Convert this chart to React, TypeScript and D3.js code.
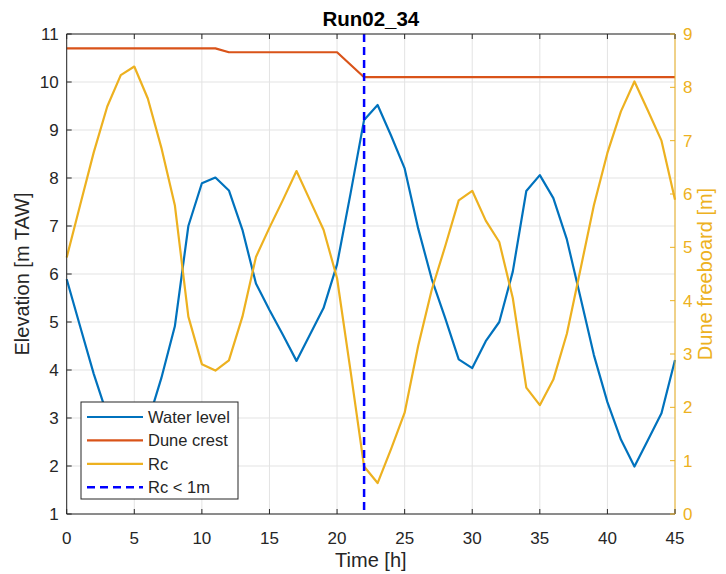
import React, { useEffect, useRef } from 'react';
import * as d3 from 'd3';

// hours 0..45
const hours = d3.range(0, 46);

const waterLevel = [
  5.89, 4.9, 3.92, 3.06, 2.47, 2.31, 2.91, 3.83, 4.91, 7.0,
  7.89, 8.01, 7.74, 6.92, 5.8, 5.25, 4.73, 4.19, 4.74, 5.29,
  6.2, 7.68, 9.21, 9.52, 8.88, 8.2, 6.95, 5.9, 5.08, 4.22,
  4.04, 4.6, 5.0, 6.05, 7.73, 8.06, 7.58, 6.72, 5.52, 4.31,
  3.33, 2.55, 1.99, 2.54, 3.1, 4.21,
];

const duneCrest = [
  10.7, 10.7, 10.7, 10.7, 10.7, 10.7, 10.7, 10.7, 10.7, 10.7,
  10.7, 10.7, 10.62, 10.62, 10.62, 10.62, 10.62, 10.62, 10.62, 10.62,
  10.62, 10.36, 10.1, 10.1, 10.1, 10.1, 10.1, 10.1, 10.1, 10.1,
  10.1, 10.1, 10.1, 10.1, 10.1, 10.1, 10.1, 10.1, 10.1, 10.1,
  10.1, 10.1, 10.1, 10.1, 10.1, 10.1,
];

const rc = [
  4.81, 5.8, 6.78, 7.64, 8.23, 8.39, 7.79, 6.87, 5.79, 3.7,
  2.81, 2.69, 2.88, 3.7, 4.82, 5.37, 5.89, 6.43, 5.88, 5.33,
  4.42, 2.68, 0.89, 0.58, 1.22, 1.9, 3.15, 4.2, 5.02, 5.88,
  6.06, 5.5, 5.1, 4.05, 2.37, 2.04, 2.52, 3.38, 4.58, 5.79,
  6.77, 7.55, 8.11, 7.56, 7.0, 5.89,
];

const criticalHour = 22;

const xTicks = [0, 5, 10, 15, 20, 25, 30, 35, 40, 45];
const leftTicks = [1, 2, 3, 4, 5, 6, 7, 8, 9, 10, 11];
const rightTicks = [0, 1, 2, 3, 4, 5, 6, 7, 8, 9];

const legendNames = ['Water level', 'Dune crest', 'Rc', 'Rc < 1m'];

const BLUE = '#0072BD';
const ORANGE = '#D95319';
const YELLOW = '#EDB120';
const AXIS = '#262626';
const GRID = '#e3e3e3';
const FONT = '"Liberation Sans", Arial, Helvetica, sans-serif';

export default function App() {
  const svgRef = useRef<SVGSVGElement>(null);

  useEffect(() => {
    const w = 726;
    const h = 574;
    const left = 66.7, right = 675, top = 34, bottom = 514;
    const lw = 2.2;

    const svg = d3.select(svgRef.current)
      .attr('width', w)
      .attr('height', h);
    svg.selectAll('*').remove();

    svg.append('rect').attr('width', w).attr('height', h).attr('fill', 'white');

    const x = d3.scaleLinear().domain([0, 45]).range([left, right]);
    const yL = d3.scaleLinear().domain([1, 11]).range([bottom, top]);
    const yR = d3.scaleLinear().domain([0, 9]).range([bottom, top]);

    // grid
    const grid = svg.append('g').attr('stroke', GRID).attr('stroke-width', 1);
    xTicks.forEach(t => {
      grid.append('line').attr('x1', x(t)).attr('x2', x(t)).attr('y1', top).attr('y2', bottom);
    });
    leftTicks.forEach(t => {
      grid.append('line').attr('x1', left).attr('x2', right).attr('y1', yL(t)).attr('y2', yL(t));
    });

    // series
    const lineL = d3.line<number>()
      .x((d, i) => x(hours[i]))
      .y(d => yL(d));

    svg.append('path')
      .attr('d', lineL(waterLevel))
      .attr('fill', 'none').attr('stroke', BLUE).attr('stroke-width', lw)
      .attr('stroke-linejoin', 'round');

    svg.append('path')
      .attr('d', lineL(duneCrest))
      .attr('fill', 'none').attr('stroke', ORANGE).attr('stroke-width', lw)
      .attr('stroke-linejoin', 'round');

    const lineR = d3.line<number>()
      .x((d, i) => x(hours[i]))
      .y(d => yR(d));

    svg.append('path')
      .attr('d', lineR(rc))
      .attr('fill', 'none').attr('stroke', YELLOW).attr('stroke-width', lw)
      .attr('stroke-linejoin', 'round');

    svg.append('line')
      .attr('x1', x(criticalHour)).attr('x2', x(criticalHour))
      .attr('y1', top).attr('y2', bottom)
      .attr('stroke', '#0000FF').attr('stroke-width', 2.5)
      .attr('stroke-dasharray', '8,5');

    // axes box
    const ax = svg.append('g').attr('fill', 'none').attr('stroke-width', 1);
    ax.append('line').attr('x1', left).attr('x2', right).attr('y1', bottom).attr('y2', bottom).attr('stroke', AXIS);
    ax.append('line').attr('x1', left).attr('x2', right).attr('y1', top).attr('y2', top).attr('stroke', AXIS);
    ax.append('line').attr('x1', left).attr('x2', left).attr('y1', top).attr('y2', bottom).attr('stroke', AXIS);
    ax.append('line').attr('x1', right).attr('x2', right).attr('y1', top).attr('y2', bottom).attr('stroke', YELLOW);

    const tl = 5;
    xTicks.forEach(t => {
      ax.append('line').attr('x1', x(t)).attr('x2', x(t)).attr('y1', bottom).attr('y2', bottom - tl).attr('stroke', AXIS);
      ax.append('line').attr('x1', x(t)).attr('x2', x(t)).attr('y1', top).attr('y2', top + tl).attr('stroke', AXIS);
      svg.append('text')
        .attr('x', x(t)).attr('y', bottom + 30)
        .attr('text-anchor', 'middle')
        .attr('font-family', FONT).attr('font-size', 17).attr('fill', AXIS)
        .text(t);
    });
    leftTicks.forEach(t => {
      ax.append('line').attr('x1', left).attr('x2', left + tl).attr('y1', yL(t)).attr('y2', yL(t)).attr('stroke', AXIS);
      svg.append('text')
        .attr('x', left - 8).attr('y', yL(t)).attr('dy', '0.35em')
        .attr('text-anchor', 'end')
        .attr('font-family', FONT).attr('font-size', 17).attr('fill', AXIS)
        .text(t);
    });
    rightTicks.forEach(t => {
      ax.append('line').attr('x1', right).attr('x2', right - tl).attr('y1', yR(t)).attr('y2', yR(t)).attr('stroke', YELLOW);
      svg.append('text')
        .attr('x', right + 8).attr('y', yR(t)).attr('dy', '0.35em')
        .attr('text-anchor', 'start')
        .attr('font-family', FONT).attr('font-size', 17).attr('fill', YELLOW)
        .text(t);
    });

    // labels
    svg.append('text')
      .attr('x', (left + right) / 2).attr('y', 26)
      .attr('text-anchor', 'middle')
      .attr('font-family', FONT).attr('font-size', 20.5).attr('font-weight', 'bold').attr('fill', 'black')
      .text('Run02_34');

    svg.append('text')
      .attr('x', (left + right) / 2).attr('y', 567)
      .attr('text-anchor', 'middle')
      .attr('font-family', FONT).attr('font-size', 20).attr('fill', AXIS)
      .text('Time [h]');

    svg.append('text')
      .attr('transform', `translate(29,${(top + bottom) / 2}) rotate(-90)`)
      .attr('text-anchor', 'middle')
      .attr('font-family', FONT).attr('font-size', 20).attr('fill', AXIS)
      .text('Elevation [m TAW]');

    svg.append('text')
      .attr('transform', `translate(712,${(top + bottom) / 2}) rotate(-90)`)
      .attr('text-anchor', 'middle')
      .attr('font-family', FONT).attr('font-size', 20).attr('fill', YELLOW)
      .text('Dune freeboard [m]');

    // legend
    const lg = svg.append('g');
    lg.append('rect')
      .attr('x', 81).attr('y', 402).attr('width', 157).attr('height', 97)
      .attr('fill', 'white').attr('stroke', AXIS).attr('stroke-width', 1);
    const styles = [
      { c: BLUE, dash: null, wdt: lw },
      { c: ORANGE, dash: null, wdt: lw },
      { c: YELLOW, dash: null, wdt: lw },
      { c: '#0000FF', dash: '8,5', wdt: 2.5 },
    ];
    legendNames.forEach((name, i) => {
      const yy = 417 + i * 23.4;
      const ln = lg.append('line')
        .attr('x1', 87).attr('x2', 143).attr('y1', yy).attr('y2', yy)
        .attr('stroke', styles[i].c).attr('stroke-width', styles[i].wdt);
      if (styles[i].dash) ln.attr('stroke-dasharray', styles[i].dash);
      lg.append('text')
        .attr('x', 148).attr('y', yy).attr('dy', '0.35em')
        .attr('font-family', FONT).attr('font-size', 16.5).attr('fill', AXIS)
        .text(name);
    });
  }, []);

  return (
    <svg ref={svgRef} style={{ position: 'absolute', left: 0, top: 0, display: 'block' }} />
  );
}
